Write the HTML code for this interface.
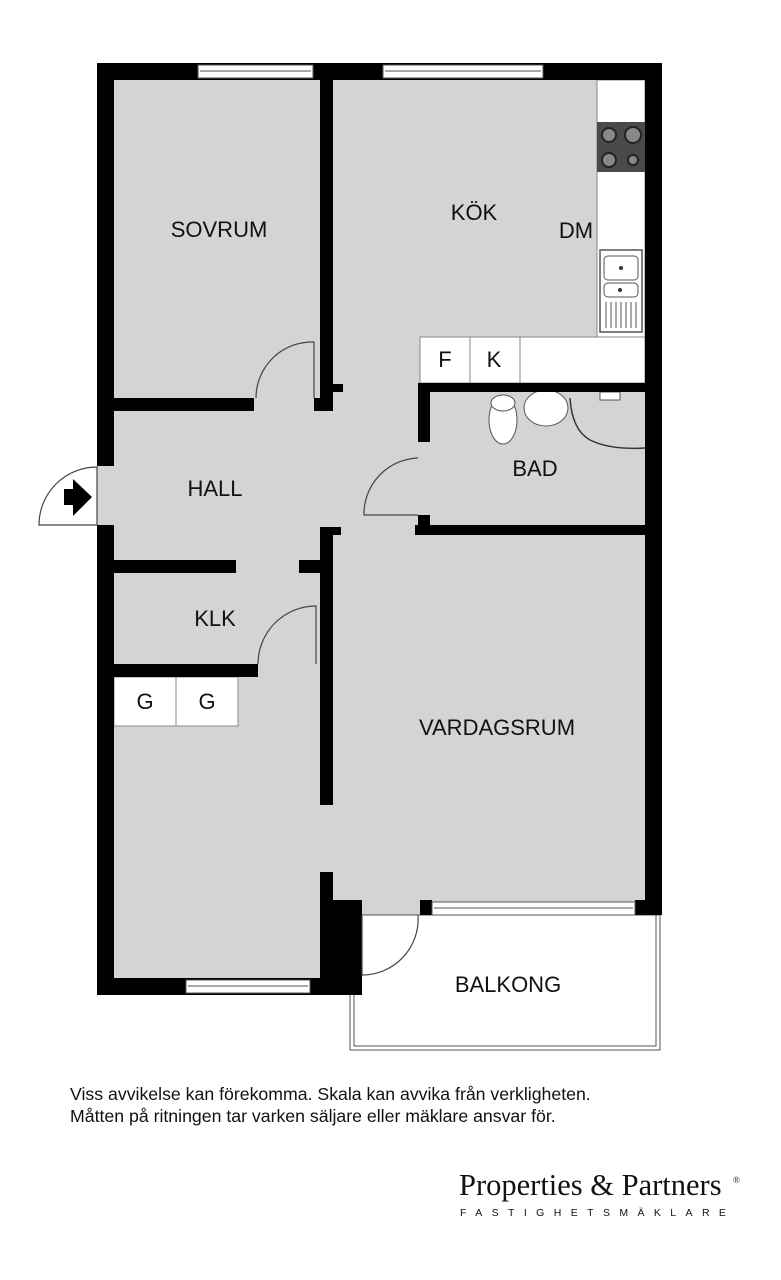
<!DOCTYPE html>
<html><head><meta charset="utf-8"><style>
body{margin:0;background:#fff;width:781px;height:1280px;overflow:hidden}
svg{position:absolute;left:0;top:0}
.t{font-family:"Liberation Sans",sans-serif;font-size:22px;fill:#111}
</style></head><body>
<svg width="781" height="1280" viewBox="0 0 781 1280">
<rect x="97" y="72" width="556" height="915" fill="#d4d4d4"/>
<rect x="350" y="915" width="310" height="135" fill="#fff" stroke="#555" stroke-width="1"/>
<rect x="354" y="915" width="302" height="131" fill="none" stroke="#555" stroke-width="1"/>
<rect x="597" y="80" width="48" height="257" fill="#fff" stroke="#888" stroke-width="1"/>
<rect x="597" y="122" width="48" height="50" fill="#4a4a4a"/>
<circle cx="609" cy="135" r="7" fill="#888" stroke="#222" stroke-width="2"/>
<circle cx="633" cy="135" r="8" fill="#888" stroke="#222" stroke-width="2"/>
<circle cx="609" cy="160" r="7" fill="#888" stroke="#222" stroke-width="2"/>
<circle cx="633" cy="160" r="5" fill="#888" stroke="#222" stroke-width="2"/>
<rect x="600" y="250" width="42" height="82" fill="#fff" stroke="#555" stroke-width="1.5"/>
<rect x="604" y="256" width="34" height="24" rx="4" fill="#fff" stroke="#555"/>
<rect x="604" y="283" width="34" height="14" rx="4" fill="#fff" stroke="#555"/>
<circle cx="621" cy="268" r="2" fill="#333"/><circle cx="620" cy="290" r="2" fill="#333"/>
<g stroke="#555" stroke-width="1"><line x1="606" y1="302" x2="606" y2="328"/><line x1="611" y1="302" x2="611" y2="328"/><line x1="616" y1="302" x2="616" y2="328"/><line x1="621" y1="302" x2="621" y2="328"/><line x1="626" y1="302" x2="626" y2="328"/><line x1="631" y1="302" x2="631" y2="328"/><line x1="636" y1="302" x2="636" y2="328"/></g>
<rect x="420" y="337" width="225" height="46" fill="#fff" stroke="#888" stroke-width="1"/>
<line x1="470" y1="337" x2="470" y2="383" stroke="#888"/>
<line x1="520" y1="337" x2="520" y2="383" stroke="#888"/>
<rect x="114" y="677" width="124" height="49" fill="#fff" stroke="#888" stroke-width="1"/>
<line x1="176" y1="677" x2="176" y2="726" stroke="#888"/>
<ellipse cx="503" cy="420" rx="14" ry="24" fill="#fff" stroke="#555"/>
<ellipse cx="503" cy="403" rx="12" ry="8" fill="#fff" stroke="#555"/>
<ellipse cx="546" cy="408" rx="22" ry="18" fill="#fff" stroke="#555"/>
<path d="M570 398 Q572 430 590 440 Q610 450 645 448" fill="none" stroke="#333" stroke-width="1.5"/>
<rect x="600" y="392" width="20" height="8" fill="#fff" stroke="#555"/>
<g fill="#000">
<rect x="97" y="63" width="565" height="17"/>
<rect x="97" y="63" width="17" height="403"/>
<rect x="97" y="525" width="17" height="470"/>
<rect x="645" y="63" width="17" height="852"/>
<rect x="97" y="978" width="236" height="17"/>
<rect x="320" y="63" width="13" height="348"/>
<rect x="333" y="384" width="10" height="8"/>
<rect x="114" y="398" width="140" height="13"/>
<rect x="314" y="398" width="19" height="13"/>
<rect x="418" y="383" width="244" height="9"/>
<rect x="418" y="392" width="12" height="50"/>
<rect x="418" y="515" width="12" height="20"/>
<rect x="415" y="525" width="247" height="10"/>
<rect x="114" y="560" width="122" height="13"/>
<rect x="299" y="560" width="21" height="13"/>
<rect x="320" y="527" width="13" height="278"/>
<rect x="333" y="527" width="8" height="8"/>
<rect x="114" y="664" width="144" height="13"/>
<rect x="320" y="872" width="13" height="123"/>
<rect x="320" y="900" width="42" height="95"/>
<rect x="420" y="900" width="12" height="15"/>
<rect x="635" y="900" width="27" height="15"/>
</g>
<g fill="#fff" stroke="#555" stroke-width="1">
<rect x="198" y="65" width="115" height="13"/><line x1="200" y1="71" x2="311" y2="71"/>
<rect x="383" y="65" width="160" height="13"/><line x1="385" y1="71" x2="541" y2="71"/>
<rect x="186" y="980" width="124" height="13"/><line x1="188" y1="986" x2="308" y2="986"/>
<rect x="432" y="902" width="203" height="13"/><line x1="434" y1="908" x2="633" y2="908"/>
</g>
<g fill="none" stroke="#444" stroke-width="1.2">
<path d="M314 398 L314 342 A56 56 0 0 0 256 398"/>
<path d="M418 515 L364 515 A56 56 0 0 1 418 458"/>
<path d="M316 664 L316 606 A58 58 0 0 0 258 664"/>
<path d="M362 915 L362 975 A56 56 0 0 0 418 915"/>
<path d="M97 525 L39 525 A58 58 0 0 1 97 467 Z" fill="#fff"/>
</g>
<rect x="320" y="606" width="4" height="70" fill="#000"/>
<path d="M73 479 L92 497 L73 516 L73 505 L64 505 L64 489 L73 489 Z" fill="#000"/>
<text class="t" x="219" y="237" text-anchor="middle">SOVRUM</text>
<text class="t" x="474" y="220" text-anchor="middle">KÖK</text>
<text class="t" x="576" y="238" text-anchor="middle">DM</text>
<text class="t" x="445" y="367" text-anchor="middle">F</text>
<text class="t" x="494" y="367" text-anchor="middle">K</text>
<text class="t" x="535" y="476" text-anchor="middle">BAD</text>
<text class="t" x="215" y="496" text-anchor="middle">HALL</text>
<text class="t" x="215" y="626" text-anchor="middle">KLK</text>
<text class="t" x="145" y="709" text-anchor="middle">G</text>
<text class="t" x="207" y="709" text-anchor="middle">G</text>
<text class="t" x="497" y="735" text-anchor="middle">VARDAGSRUM</text>
<text class="t" x="508" y="992" text-anchor="middle">BALKONG</text>
<text x="70" y="1100" font-family="Liberation Sans,sans-serif" font-size="17.7" fill="#111">Viss avvikelse kan förekomma. Skala kan avvika från verkligheten.</text>
<text x="70" y="1122" font-family="Liberation Sans,sans-serif" font-size="17.7" fill="#111">Måtten på ritningen tar varken säljare eller mäklare ansvar för.</text>
<text x="459" y="1195" font-family="Liberation Serif,serif" font-size="30.5" fill="#111">Properties &amp; Partners</text>
<text x="733" y="1183" font-family="Liberation Serif,serif" font-size="9" fill="#111">®</text>
<text x="460" y="1216" font-family="Liberation Sans,sans-serif" font-size="10.5" letter-spacing="9.4" fill="#111">FASTIGHETSMÄKLARE</text>
</svg>
</body></html>
